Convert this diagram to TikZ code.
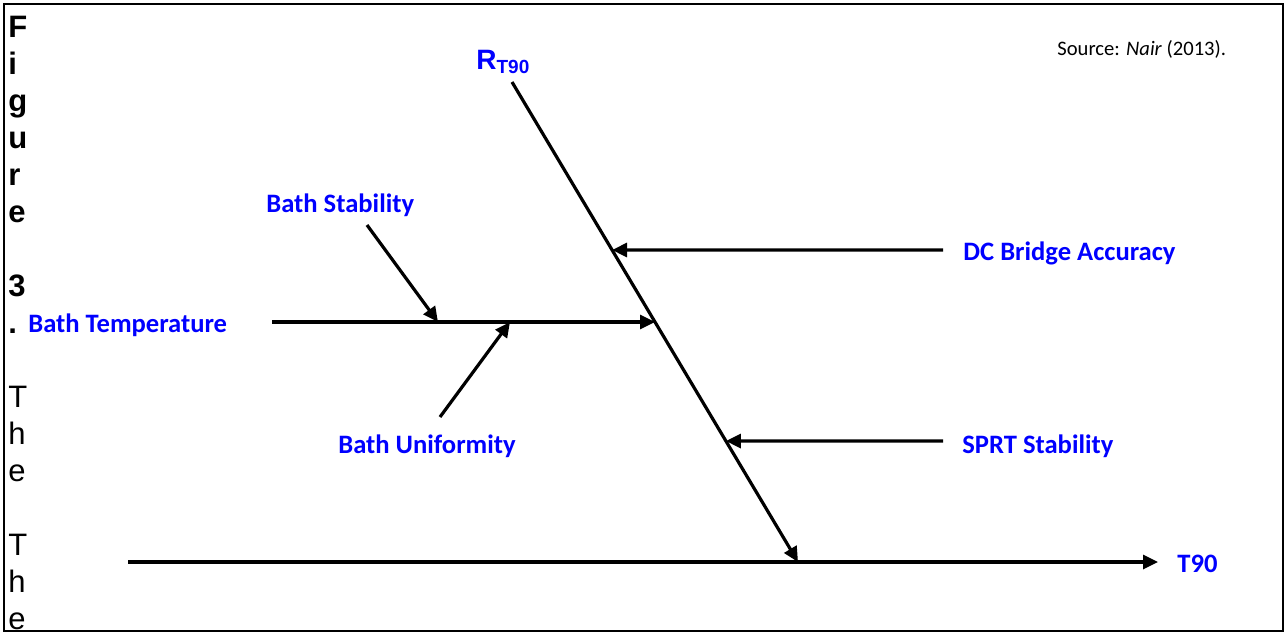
\documentclass[tikz,border=0pt]{standalone}
\usepackage{fontspec}
\setmainfont{Carlito}
\newfontfamily\arialfont{Liberation Sans}
\usepackage{xcolor}
\usetikzlibrary{arrows.meta,calc,positioning}

\begin{document}
\begin{tikzpicture}[x=0.5pt, y=-0.5pt,
    arr/.style={line width=1.6pt, -{Triangle[length=7.5pt,width=7pt]}},
    lbl/.style={text=blue, inner sep=0pt, anchor=base west,
                font=\bfseries\fontsize{13.3}{15}\selectfont},
    figch/.style={inner sep=0pt, anchor=base west,
                  font=\arialfont\fontsize{15.5}{17}\selectfont}]
  \useasboundingbox (0,0) rectangle (1285,633);
  \draw[line width=0.8pt] (4,4) rectangle (1283,631);
  % --- caption column ---
  \foreach \ch/\row in {F/1,i/2,g/3,u/4,r/5,e/6,3/8,./9}
    \node[figch, font=\arialfont\bfseries\fontsize{15.5}{17}\selectfont] (cap\row) at (8,{37*\row}) {\ch};
  \foreach \ch/\row in {T/11,h/12,e/13,T/15,h/16,e/17}
    \node[figch] (cap\row) at (8,{37*\row}) {\ch};
  % --- labels ---
  \node[anchor=base west, inner sep=0pt, font=\fontsize{10.3}{12}\selectfont] (src) at (1057,55) {Source: \textit{Nair} (2013).};
  \node[lbl, font=\arialfont\bfseries\fontsize{14}{16}\selectfont] (rlbl) at (476,69)
    {R\raisebox{-2pt}{\fontsize{9.5}{11}\selectfont T90}};
  \node[lbl] (stab) at (266,212) {Bath Stability};
  \node[lbl] (temp) at (28,332) {Bath Temperature};
  \node[lbl] (unif) at (338,453) {Bath Uniformity};
  \node[lbl] (dc) at (963,260) {DC Bridge Accuracy};
  \node[lbl] (sprt) at (962,453) {SPRT Stability};
  \node[lbl] (tout) at (1177,572) {T90};
  % --- spine and axis ---
  \coordinate (rtop) at (512,82);
  \coordinate (spineEnd) at (798,562);
  \coordinate (axStart) at (128,562);
  \coordinate (axEnd) at (1158,562);
  \draw[arr] (axStart) -- (axEnd);
  \draw[arr] (rtop) -- (spineEnd);
  % --- causes ---
  \coordinate (jDC) at ($(rtop)!0.35!(spineEnd)$);
  \coordinate (jTemp) at ($(rtop)!0.5!(spineEnd)$);
  \coordinate (jSPRT) at ($(rtop)!0.748!(spineEnd)$);
  \coordinate (dcStart) at (943,250);
  \coordinate (sprtStart) at (943,441);
  \coordinate (tempStart) at (272,322);
  \draw[arr] (dcStart) -- (jDC);
  \draw[arr] (sprtStart) -- (jSPRT);
  \draw[arr] (tempStart) -- (jTemp);
  % --- sub-causes ---
  \coordinate (stabStart) at (367,225);
  \coordinate (jStab) at (438,322);
  \coordinate (unifStart) at (440,417);
  \coordinate (jUnif) at (510,322);
  \draw[arr] (stabStart) -- (jStab);
  \draw[arr] (unifStart) -- (jUnif);
\end{tikzpicture}
\end{document}
